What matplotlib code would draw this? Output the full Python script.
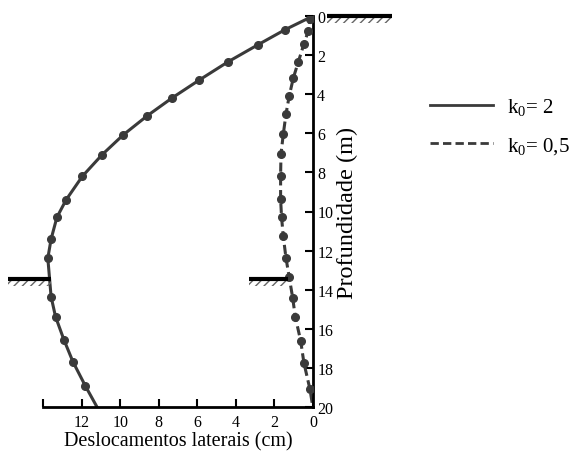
import numpy as np
import matplotlib
matplotlib.use("Agg")
import matplotlib.pyplot as plt
from matplotlib.lines import Line2D
from matplotlib.patches import Rectangle

plt.rcParams['font.family'] = ['Liberation Serif', 'DejaVu Serif']
plt.rcParams['mathtext.fontset'] = 'stix'

# k0 = 2 (deslocamento em cm, profundidade em m)
desl_k2 = [0.0, 1.45, 2.87, 4.4, 5.92, 7.29, 8.59, 9.85, 10.93, 11.96, 12.8,
           13.28, 13.58, 13.75, 13.58, 13.35, 12.92, 12.45, 11.81, 11.2]
prof_k2 = [0.0, 0.7, 1.48, 2.34, 3.29, 4.18, 5.1, 6.09, 7.09, 8.2, 9.4,
           10.3, 11.41, 12.39, 14.36, 15.38, 16.55, 17.68, 18.91, 20.0]

# k0 = 0,5
desl_k05 = [0.0, 0.15, 0.24, 0.47, 0.76, 1.02, 1.23, 1.4, 1.54, 1.66, 1.68,
            1.68, 1.63, 1.54, 1.4, 1.23, 1.05, 0.92, 0.64, 0.47, 0.16, 0.02]
prof_k05 = [0.0, 0.15, 0.75, 1.43, 2.34, 3.17, 4.08, 5.01, 6.04, 7.06, 8.17,
            9.36, 10.3, 11.27, 12.39, 13.37, 14.44, 15.38, 16.61, 17.75, 19.08, 19.93]

xticks = [14, 12, 10, 8, 6, 4, 2, 0]
xticklabels = ['', '12', '10', '8', '6', '4', '2', '0']
yticks = [0, 2, 4, 6, 8, 10, 12, 14, 16, 18, 20]

cor = '#3a3a3a'

fig = plt.figure(figsize=(5.74, 4.56), dpi=100)
ax = fig.add_axes([43 / 574, 1 - 408 / 456, 270 / 574, 391 / 456])

ax.plot(desl_k2[:-1], prof_k2[:-1], ls='none', marker='o', ms=5.5, color=cor, zorder=3)
ax.plot(desl_k2, prof_k2, ls='-', lw=2.2, color=cor, zorder=2)
ax.plot(desl_k05[1:-1], prof_k05[1:-1], ls='none', marker='o', ms=5.5, color=cor, zorder=3)
ax.plot(desl_k05, prof_k05, ls=(0, (3, 1.5)), lw=2.2, color=cor, zorder=2)

ax.set_xlim(14, 0)
ax.set_ylim(20, 0)

for s in ['top', 'left']:
    ax.spines[s].set_visible(False)
ax.spines['right'].set_linewidth(2)
ax.spines['bottom'].set_linewidth(2)

ax.yaxis.tick_right()
ax.yaxis.set_label_position('right')
ax.set_xticks(xticks)
ax.set_xticklabels(xticklabels)
ax.set_yticks(yticks)
ax.tick_params(axis='both', direction='in', length=6, width=1.5, labelsize=11.5, pad=3)
ax.tick_params(axis='x', pad=5)

ax.set_xlabel('Deslocamentos laterais (cm)', fontsize=14.5, labelpad=1)
ax.set_ylabel('Profundidade (m)', fontsize=17.5, labelpad=3)

# nível do terreno
def terreno(x0, x1, y):
    ax.plot([x0, x1], [y, y], color='black', lw=3, clip_on=False, zorder=4,
            solid_capstyle='butt')
    ax.add_patch(Rectangle((min(x0, x1), y), abs(x1 - x0), 0.35, fill=False, lw=0,
                           hatch='////', edgecolor='#666666', clip_on=False, zorder=3))

terreno(-4.1, -0.7, 0.0)
terreno(15.8, 13.6, 13.45)
terreno(3.3, 1.3, 13.45)

handles = [Line2D([0], [0], color=cor, lw=2, ls='-'),
           Line2D([0], [0], color=cor, lw=2, ls=(0, (3, 1.5)))]
fig.legend(handles, [r'$\mathregular{k_0}$= 2', r'$\mathregular{k_0}$= 0,5'],
           loc='center left', bbox_to_anchor=(430 / 574, 1 - 127 / 456),
           frameon=False, fontsize=15, handlelength=3.0, handletextpad=0.7,
           labelspacing=0.85, borderpad=0, borderaxespad=0)

fig.savefig('out.png', dpi=100)
